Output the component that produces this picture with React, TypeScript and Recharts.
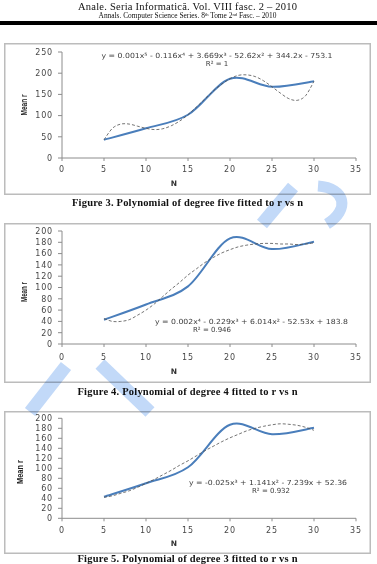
import React from 'react';
import { LineChart, Line, XAxis, YAxis } from 'recharts';

// mean r measured at each sample size N
const SAMPLE_N = [5, 10, 15, 20, 25, 30];
const MEAN_R = [43, 70, 102, 187, 168, 181];

// polynomial trendlines, read at every unit of N from 5 to 30
const TREND_N = [5, 6, 7, 8, 9, 10, 11, 12, 13, 14, 15, 16, 17, 18, 19, 20, 21, 22, 23, 24, 25, 26, 27, 28, 29, 30];
const FIT_DEG5 = [43, 70, 80, 80, 75, 70, 67, 69, 76, 87, 102, 120, 139, 158, 174, 187, 195, 196, 192, 182, 168, 153, 140, 136, 147, 181];
const FIT_DEG4 = [45, 40, 40, 43, 51, 60, 71, 84, 97, 109, 122, 133, 144, 153, 161, 167, 172, 175, 177, 178, 178, 177, 177, 176, 177, 179];
const FIT_DEG3 = [42, 45, 50, 55, 62, 70, 78, 87, 96, 106, 115, 125, 135, 144, 153, 161, 168, 175, 180, 184, 187, 189, 188, 186, 182, 176];

const X_TICKS = [0, 5, 10, 15, 20, 25, 30, 35];
const Y_TICKS_250 = [0, 50, 100, 150, 200, 250];
const Y_TICKS_200 = [0, 20, 40, 60, 80, 100, 120, 140, 160, 180, 200];

const CAPTIONS = [
  'Figure 3. Polynomial of degree five fitted to r vs n',
  'Figure 4. Polynomial of degree 4 fitted to r vs n',
  'Figure 5. Polynomial of degree 3 fitted to r vs n',
];

const BLUE = '#4a7ebb';
const AXIS = '#8c8c8c';
const TICK_STYLE = { fontFamily: 'DejaVu Sans', fontSize: 8, fill: '#474747', letterSpacing: 0.8 };

// Excel-like smoothed line: Bezier segments with tangents taken from the neighbours
const smoothCurve = (context: any) => {
  let pts: number[][] = [];
  return {
    areaStart() {},
    areaEnd() {},
    lineStart() {
      pts = [];
    },
    point(x: number, y: number) {
      pts.push([+x, +y]);
    },
    lineEnd() {
      const n = pts.length;
      if (!n) return;
      context.moveTo(pts[0][0], pts[0][1]);
      for (let i = 0; i < n - 1; i++) {
        const p0 = pts[Math.max(i - 1, 0)];
        const p1 = pts[i];
        const p2 = pts[i + 1];
        const p3 = pts[Math.min(i + 2, n - 1)];
        context.bezierCurveTo(
          p1[0] + (p2[0] - p0[0]) / 6,
          p1[1] + (p2[1] - p0[1]) / 6,
          p2[0] - (p3[0] - p1[0]) / 6,
          p2[1] - (p3[1] - p1[1]) / 6,
          p2[0],
          p2[1],
        );
      }
    },
  };
};

const meanSeries = SAMPLE_N.map((n, i) => ({ n, r: MEAN_R[i] }));
const toSeries = (fit: number[]) => TREND_N.map((n, i) => ({ n, r: fit[i] }));

type PanelProps = {
  top: number;
  height: number;
  plotTop: number;
  axisHeight: number;
  tickGap: number;
  yMax: number;
  yTicks: number[];
  fit: number[];
  equation: React.ReactNode;
  eq: [number, number, number];
  r2: React.ReactNode;
  r2At: [number, number];
  titleAt: [number, number, number];
  nBaseline: number;
};

function Panel(p: PanelProps) {
  return (
    <div
      style={{
        position: 'absolute',
        left: 4,
        top: p.top,
        width: 367,
        height: p.height,
        background: '#fff',
        boxShadow: 'inset 0 0 0 1.5px #bcbcbc',
      }}
    >
      <LineChart width={367} height={p.height} margin={{ top: p.plotTop, right: 15, bottom: 0, left: 0 }}>
        <XAxis
          type="number"
          dataKey="n"
          domain={[0, 35]}
          ticks={X_TICKS}
          interval={0}
          height={p.axisHeight}
          tick={TICK_STYLE}
          tickSize={3}
          tickMargin={p.tickGap}
          stroke={AXIS}
        />
        <YAxis
          type="number"
          domain={[0, p.yMax]}
          ticks={p.yTicks}
          interval={0}
          width={58}
          tick={TICK_STYLE}
          tickSize={4}
          tickMargin={5}
          stroke={AXIS}
        />
        <Line
          data={meanSeries}
          dataKey="r"
          type={smoothCurve as any}
          stroke={BLUE}
          strokeWidth={2}
          dot={false}
          activeDot={false}
          isAnimationActive={false}
        />
        <Line
          data={toSeries(p.fit)}
          dataKey="r"
          type={smoothCurve as any}
          stroke="#505050"
          strokeWidth={0.8}
          strokeDasharray="3 2"
          dot={false}
          activeDot={false}
          isAnimationActive={false}
        />
      </LineChart>
      <svg
        width={367}
        height={p.height}
        style={{ position: 'absolute', left: 0, top: 0, pointerEvents: 'none' }}
      >
        <text
          transform={`translate(${p.titleAt[0]},${p.titleAt[1]}) rotate(-90)`}
          textAnchor="middle"
          dominantBaseline="central"
          fontFamily="Liberation Sans"
          fontWeight="bold"
          fontSize={8.5}
          fill="#222"
          textLength={p.titleAt[2]}
          lengthAdjust="spacingAndGlyphs"
        >
          Mean r
        </text>
        <text
          x={170}
          y={p.nBaseline}
          textAnchor="middle"
          fontFamily="DejaVu Sans"
          fontWeight="bold"
          fontSize={7.5}
          fill="#333"
        >
          N
        </text>
        <text
          x={p.eq[0]}
          y={p.eq[1]}
          textAnchor="middle"
          fontFamily="DejaVu Sans"
          fontSize={7}
          fill="#3c3c3c"
          textLength={p.eq[2]}
          lengthAdjust="spacingAndGlyphs"
        >
          {p.equation}
        </text>
        <text
          x={p.r2At[0]}
          y={p.r2At[1]}
          textAnchor="middle"
          fontFamily="DejaVu Sans"
          fontSize={7}
          fill="#3c3c3c"
        >
          {p.r2}
        </text>
      </svg>
    </div>
  );
}

export default function App() {
  return (
    <div
      style={{
        position: 'absolute',
        left: 0,
        top: 0,
        width: 377,
        height: 564,
        background: '#fff',
        overflow: 'hidden',
      }}
    >
      <Panel
        top={43}
        height={152}
        plotTop={9}
        axisHeight={37}
        tickGap={5}
        yMax={250}
        yTicks={Y_TICKS_250}
        fit={FIT_DEG5}
        equation="y = 0.001x⁵ - 0.116x⁴ + 3.669x³ - 52.62x² + 344.2x - 753.1"
        eq={[213, 14.5, 231]}
        r2="R² = 1"
        r2At={[213, 22.5]}
        titleAt={[20, 62, 21]}
        nBaseline={143}
      />
      <Panel
        top={223}
        height={160}
        plotTop={8}
        axisHeight={39}
        tickGap={7}
        yMax={200}
        yTicks={Y_TICKS_200}
        fit={FIT_DEG4}
        equation="y = 0.002x⁴ - 0.229x³ + 6.014x² - 52.53x + 183.8"
        eq={[247.5, 100.5, 193]}
        r2="R² = 0.946"
        r2At={[208, 108.5]}
        titleAt={[20, 69, 20]}
        nBaseline={150.5}
      />
      <Panel
        top={411}
        height={143}
        plotTop={7.3}
        axisHeight={35.7}
        tickGap={6}
        yMax={200}
        yTicks={Y_TICKS_200}
        fit={FIT_DEG3}
        equation="y = -0.025x³ + 1.141x² - 7.239x + 52.36"
        eq={[264, 73.5, 158]}
        r2="R² = 0.932"
        r2At={[267, 81.5]}
        titleAt={[16, 61, 24]}
        nBaseline={135}
      />

      {/* running header, captions and the faint watermark on top */}
      <svg width={377} height={564} style={{ position: 'absolute', left: 0, top: 0, pointerEvents: 'none' }}>
        <text x={187.5} y={9.5} textAnchor="middle" fontFamily="Liberation Serif" fontSize={10.5} fill="#111" textLength={219}>
          Anale. Seria Informatică. Vol. VIII fasc. 2 – 2010
        </text>
        <text x={187.5} y={18.3} textAnchor="middle" fontFamily="Liberation Serif" fontSize={7.4} fill="#111">
          Annals. Computer Science Series. 8
          <tspan fontSize={4.6} dy={-2.5}>th</tspan>
          <tspan dy={2.5}> Tome 2</tspan>
          <tspan fontSize={4.6} dy={-2.5}>nd</tspan>
          <tspan dy={2.5}> Fasc. – 2010</tspan>
        </text>
        <rect x={0} y={21} width={377} height={4} fill="#000" />

        {CAPTIONS.map((c, i) => (
          <text
            key={c}
            x={187.5}
            y={[205.5, 394.5, 561.5][i]}
            textAnchor="middle"
            fontFamily="Liberation Serif"
            fontWeight="bold"
            fontSize={10.5}
            fill="#111"
            textLength={[231, 220, 220][i]}
          >
            {c}
          </text>
        ))}

        <g stroke="#c2d9f8" fill="none" style={{ mixBlendMode: 'multiply' }}>
          <path d="M262 224 L293 187" strokeWidth={13} />
          <path d="M318 186 C346 188 350 210 327 224" strokeWidth={11} />
          <path d="M30 412 L66 366" strokeWidth={13} />
          <path d="M100 364 L150 412" strokeWidth={13} />
        </g>
      </svg>
    </div>
  );
}
